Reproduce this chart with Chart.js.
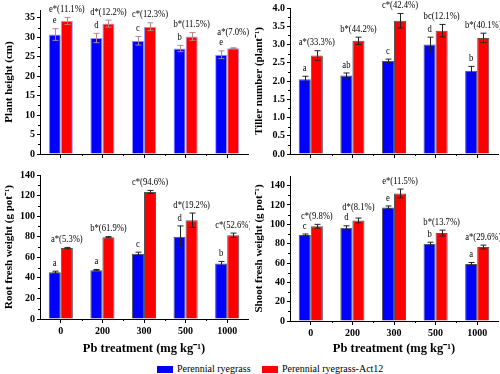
<!DOCTYPE html>
<html>
<head>
<meta charset="utf-8">
<script src="https://cdn.jsdelivr.net/npm/chart.js@4.4.0/dist/chart.umd.min.js"></script>
<style>
body { margin: 0; background: #fff; width: 500px; height: 374px; position: relative; overflow: hidden; font-family: "Liberation Serif", serif; }
.panel { position: absolute; }
#legend { position: absolute; left: 0; top: 363px; width: 500px; height: 11px; font-size: 10px; color: #000; }
#legend span.sw { position: absolute; top: 3px; width: 16px; height: 7px; }
#legend span.tx { position: absolute; top: 0; line-height: 11px; }
</style>
</head>
<body>
<div class="panel" style="left:0;top:0"><canvas id="c1" width="250" height="165"></canvas></div>
<div class="panel" style="left:250px;top:0"><canvas id="c2" width="250" height="165"></canvas></div>
<div class="panel" style="left:0;top:165px"><canvas id="c3" width="250" height="195"></canvas></div>
<div class="panel" style="left:250px;top:165px"><canvas id="c4" width="250" height="195"></canvas></div>
<div id="legend">
  <span class="sw" style="left:157px;background:#0000ff"></span><span class="tx" style="left:177px">Perennial ryegrass</span>
  <span class="sw" style="left:262px;background:#ff0000"></span><span class="tx" style="left:282px">Perennial ryegrass-Act12</span>
</div>
<script>
const categories = ["0", "200", "300", "500", "1000"];
const seriesNames = ["Perennial ryegrass", "Perennial ryegrass-Act12"];

// plant height (cm)
const heightBlue = [30.7, 29.8, 29.1, 27.1, 25.5];
const heightRed = [34.2, 33.5, 32.7, 30.2, 27.2];
const heightBlueErr = [1.5, 1.2, 1.1, 0.8, 1.0];
const heightRedErr = [0.9, 0.9, 1.0, 1.0, 0.1];
const heightBlueLab = ["e", "d", "c", "b", "e"];
const heightRedLab = ["e*(11.1%)", "d*(12.2%)", "c*(12.3%)", "b*(11.5%)", "a*(7.0%)"];

// tiller number
const tillerBlue = [2.05, 2.15, 2.55, 3.0, 2.28];
const tillerRed = [2.7, 3.1, 3.65, 3.38, 3.18];
const tillerBlueErr = [0.08, 0.07, 0.05, 0.2, 0.12];
const tillerRedErr = [0.13, 0.1, 0.2, 0.17, 0.13];
const tillerBlueLab = ["a", "ab", "c", "d", "b"];
const tillerRedLab = ["a*(33.3%)", "b*(44.2%)", "c*(42.4%)", "bc(12.1%)", "b*(40.1%)"];

// root fresh weight
const rootBlue = [45.5, 47.5, 63.5, 80, 54];
const rootRed = [69, 79.5, 123.5, 96, 81.5];
const rootBlueErr = [1, 0.6, 1.5, 10.5, 2];
const rootRedErr = [0.6, 0.6, 1.5, 7, 2];
const rootBlueLab = ["a", "a", "c", "d", "b"];
const rootRedLab = ["a*(5.3%)", "b*(61.9%)", "c*(94.6%)", "d*(19.2%)", "c*(52.6%)"];

// shoot fresh weight
const shootBlue = [89, 96.5, 117.5, 80, 59];
const shootRed = [98, 104, 132, 91, 76.5];
const shootBlueErr = [1, 2, 1.5, 1.5, 1.5];
const shootRedErr = [2, 2.5, 4.5, 3, 2];
const shootBlueLab = ["c", "d", "e", "b", "a"];
const shootRedLab = ["c*(9.8%)", "d*(8.1%)", "e*(11.5%)", "b*(13.7%)", "a*(29.6%)"];

const serif = "'Liberation Serif', 'Times New Roman', serif";

function narrowText(ctx, text, x, y) {
  ctx.save();
  ctx.translate(x, y);
  ctx.scale(0.86, 1);
  ctx.fillStyle = '#000';
  ctx.font = '10px ' + serif;
  ctx.textAlign = 'center';
  ctx.textBaseline = 'bottom';
  ctx.fillText(text, 0, 0);
  ctx.restore();
}

// error bars, minor ticks and letters above the bars
const extrasPlugin = {
  id: 'extras',
  afterDatasetsDraw(chart) {
    const ex = chart.options.plugins.extras;
    const ctx = chart.ctx;
    const y = chart.scales.y;
    const x = chart.scales.x;
    ctx.save();
    const tops = [[], []];
    for (let d = 0; d < 2; d++) {
      const meta = chart.getDatasetMeta(d);
      const vals = chart.data.datasets[d].data;
      meta.data.forEach((bar, i) => {
        const e = ex.errors[d][i];
        const top = y.getPixelForValue(vals[i] + e);
        const bot = y.getPixelForValue(vals[i] - e);
        tops[d][i] = top;
        const bx = Math.round(bar.x) + 0.5;
        ctx.strokeStyle = ex.errColor;
        ctx.lineWidth = 1;
        ctx.beginPath();
        ctx.moveTo(bx, top); ctx.lineTo(bx, bot);
        ctx.moveTo(bx - 3, top); ctx.lineTo(bx + 3, top);
        ctx.moveTo(bx - 3, bot); ctx.lineTo(bx + 3, bot);
        ctx.stroke();
      });
    }
    const blueBars = chart.getDatasetMeta(0).data;
    const redBars = chart.getDatasetMeta(1).data;
    blueBars.forEach((bar, i) => {
      const blueBase = tops[0][i] - 3;
      narrowText(ctx, ex.labels[0][i], bar.x, blueBase);
      // red label sits above its bar, and never lower than the blue letter
      const redBase = Math.min(tops[1][i] - 3, blueBase - 10);
      narrowText(ctx, ex.labels[1][i], redBars[i].x, redBase);
    });
    // minor ticks
    ctx.strokeStyle = '#000';
    ctx.lineWidth = 1;
    ctx.beginPath();
    for (let v = ex.minor; v < y.max; v += ex.minor * 2) {
      const py = Math.round(y.getPixelForValue(v)) + 0.5;
      ctx.moveTo(y.right - 2, py); ctx.lineTo(y.right, py);
    }
    const step = (x.right - x.left) / categories.length;
    for (let k = 1; k < categories.length; k++) {
      const px = Math.round(x.left + k * step) + 0.5;
      ctx.moveTo(px, x.top); ctx.lineTo(px, x.top + 2);
    }
    ctx.stroke();
    ctx.restore();
  }
};

function makeChart(id, blue, red, blueErr, redErr, blueLab, redLab, opt) {
  return new Chart(document.getElementById(id), {
    type: 'bar',
    data: {
      labels: categories,
      datasets: [
        { label: seriesNames[0], data: blue, backgroundColor: '#0000ff', borderColor: opt.border, borderWidth: 1 },
        { label: seriesNames[1], data: red, backgroundColor: '#ff0000', borderColor: opt.border, borderWidth: 1 }
      ]
    },
    options: {
      responsive: false,
      animation: false,
      layout: { padding: { top: opt.padTop, right: 2, left: 0, bottom: 0 } },
      datasets: { bar: { categoryPercentage: 0.58, barPercentage: 1 } },
      plugins: {
        legend: { display: false },
        tooltip: { enabled: false },
        extras: { errors: [blueErr, redErr], labels: [blueLab, redLab], minor: opt.minor, errColor: opt.errColor }
      },
      scales: {
        x: {
          offset: true,
          grid: { display: true, offset: false, drawOnChartArea: false, drawTicks: true, tickLength: 4, color: '#000' },
          border: { display: true, color: '#000', width: 1 },
          ticks: { display: opt.xLabels, color: '#000', padding: 2, font: { family: serif, size: 10, weight: 'bold' } },
          title: { display: opt.xLabels, text: 'Pb treatment (mg kg\u207B\u00B9)', color: '#000', padding: { top: 2, bottom: 4 }, font: { family: serif, size: 12.5, weight: 'bold' } },
          afterFit: s => { s.height = opt.xHeight; }
        },
        y: {
          min: 0,
          max: opt.max,
          grid: { display: true, drawOnChartArea: false, drawTicks: true, tickLength: 3, color: '#000' },
          border: { display: true, color: '#000', width: 1 },
          ticks: {
            stepSize: opt.step, includeBounds: false, color: '#000', padding: 2,
            font: { family: serif, size: 10, weight: 'bold' },
            callback: v => v.toFixed(opt.dec)
          },
          title: { display: true, text: opt.title, color: '#000', padding: { top: 3, bottom: 0 }, font: { family: serif, size: 11, weight: 'bold' } },
          afterFit: s => { s.width = 40; }
        }
      }
    },
    plugins: [extrasPlugin]
  });
}

makeChart('c1', heightBlue, heightRed, heightBlueErr, heightRedErr, heightBlueLab, heightRedLab,
  { padTop: 10, max: 37, step: 5, minor: 2.5, dec: 0, xLabels: false, xHeight: 11, title: 'Plant height (cm)', border: '#9a9aff', errColor: '#b08888' });
makeChart('c2', tillerBlue, tillerRed, tillerBlueErr, tillerRedErr, tillerBlueLab, tillerRedLab,
  { padTop: 7, max: 4, step: 0.5, minor: 0.25, dec: 1, xLabels: false, xHeight: 11, title: 'Tiller number (plant\u207B\u00B9)', border: '#555', errColor: '#222' });
makeChart('c3', rootBlue, rootRed, rootBlueErr, rootRedErr, rootBlueLab, rootRedLab,
  { padTop: 10, max: 140, step: 20, minor: 10, dec: 0, xLabels: true, xHeight: 41, title: 'Root fresh weight (g pot\u207B\u00B9)', border: '#555', errColor: '#222' });
makeChart('c4', shootBlue, shootRed, shootBlueErr, shootRedErr, shootBlueLab, shootRedLab,
  { padTop: 11, max: 150, step: 20, minor: 10, dec: 0, xLabels: true, xHeight: 39, title: 'Shoot fresh weight (g pot\u207B\u00B9)', border: '#555', errColor: '#222' });
</script>
</body>
</html>
